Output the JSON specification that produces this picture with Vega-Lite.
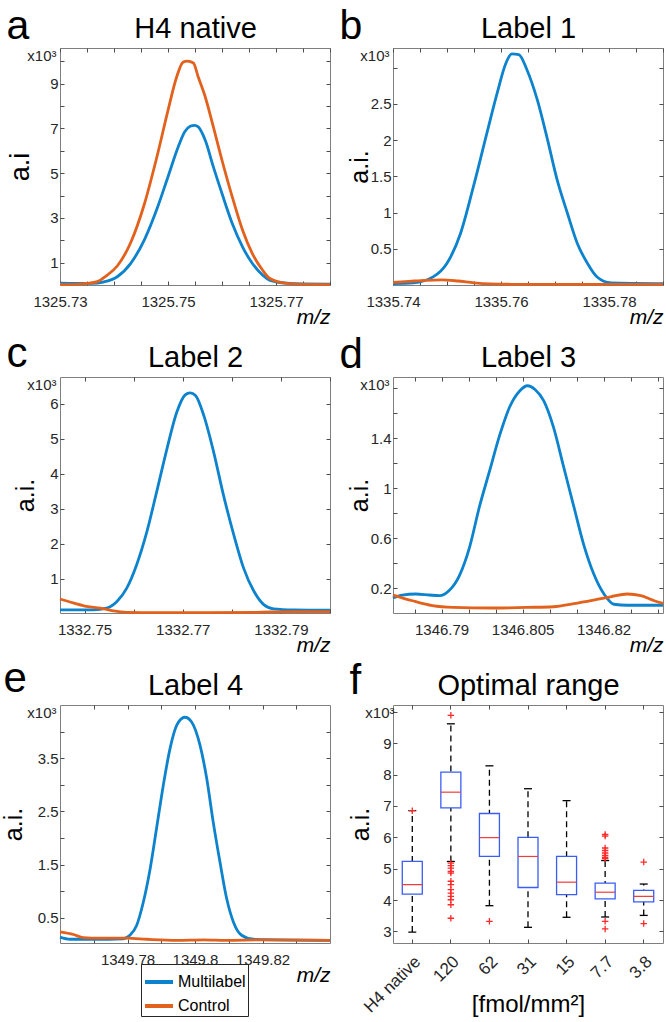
{
"$schema": "https://vega.github.io/schema/vega-lite/v6.json",
"padding": {"left": 0, "top": 5, "right": 0, "bottom": 0},
"config": {
  "font": "Liberation Sans",
  "view": {"stroke": "#7f7f7f", "strokeWidth": 1},
  "axis": {"domain": false, "grid": false, "tickColor": "#4d4d4d", "tickSize": -4, "tickWidth": 1, "labelFontSize": 15, "labelColor": "#262626", "labelFlush": false, "labelOverlap": false, "titleFontWeight": "normal", "titleColor": "#000000", "titleFontSize": 25},
  "axisBottom": {"labelPadding": 13},
  "axisLeft": {"labelPadding": 6},
  "title": {"fontWeight": "normal", "color": "#000000"}
},
"resolve": {"scale": {"color": "independent"}, "legend": {"color": "independent"}},
"datasets": {
  "box": [
    {"cat": "H4 native", "lo": 2.98, "q1": 4.19, "med": 4.49, "q3": 5.23, "hi": 6.85},
    {"cat": "120", "lo": 5.23, "q1": 6.94, "med": 7.44, "q3": 8.08, "hi": 9.62},
    {"cat": "62", "lo": 3.82, "q1": 5.39, "med": 5.99, "q3": 6.76, "hi": 8.28},
    {"cat": "31", "lo": 3.13, "q1": 4.40, "med": 5.39, "q3": 6.0, "hi": 7.55},
    {"cat": "15", "lo": 3.45, "q1": 4.17, "med": 4.57, "q3": 5.39, "hi": 7.17},
    {"cat": "7.7", "lo": 3.46, "q1": 4.04, "med": 4.25, "q3": 4.54, "hi": 5.26},
    {"cat": "3.8", "lo": 3.51, "q1": 3.94, "med": 4.12, "q3": 4.31, "hi": 4.51}
  ],
  "out": [
    {"cat": "H4 native", "v": 6.85},
    {"cat": "120", "v": 9.89}, {"cat": "120", "v": 5.18}, {"cat": "120", "v": 5.10}, {"cat": "120", "v": 5.02}, {"cat": "120", "v": 4.91}, {"cat": "120", "v": 4.86}, {"cat": "120", "v": 4.60}, {"cat": "120", "v": 4.49}, {"cat": "120", "v": 4.33}, {"cat": "120", "v": 4.22}, {"cat": "120", "v": 4.12}, {"cat": "120", "v": 4.01}, {"cat": "120", "v": 3.85}, {"cat": "120", "v": 3.42},
    {"cat": "62", "v": 3.32},
    {"cat": "7.7", "v": 6.09}, {"cat": "7.7", "v": 6.04}, {"cat": "7.7", "v": 5.66}, {"cat": "7.7", "v": 5.58}, {"cat": "7.7", "v": 5.50}, {"cat": "7.7", "v": 5.42}, {"cat": "7.7", "v": 5.36}, {"cat": "7.7", "v": 5.32}, {"cat": "7.7", "v": 3.32}, {"cat": "7.7", "v": 3.08},
    {"cat": "3.8", "v": 5.21}, {"cat": "3.8", "v": 3.25}
  ]
},
"bounds": "flush",
"align": "each",
"columns": 2,
"spacing": {"row": 92, "column": 63},
"concat": [
   {
    "width": 270, "height": 237,
    "data": {"values": [
      {"x":1325.730,"y":0.08,"s":"Multilabel"},{"x":1325.733,"y":0.07,"s":"Multilabel"},{"x":1325.736,"y":0.07,"s":"Multilabel"},{"x":1325.738,"y":0.13,"s":"Multilabel"},{"x":1325.7406,"y":0.37,"s":"Multilabel"},{"x":1325.7431,"y":0.97,"s":"Multilabel"},{"x":1325.7456,"y":2.01,"s":"Multilabel"},{"x":1325.7481,"y":3.50,"s":"Multilabel"},{"x":1325.7500,"y":4.84,"s":"Multilabel"},{"x":1325.7519,"y":6.18,"s":"Multilabel"},{"x":1325.7531,"y":6.85,"s":"Multilabel"},{"x":1325.7541,"y":7.10,"s":"Multilabel"},{"x":1325.7549,"y":7.14,"s":"Multilabel"},{"x":1325.7556,"y":7.07,"s":"Multilabel"},{"x":1325.7569,"y":6.47,"s":"Multilabel"},{"x":1325.7584,"y":5.28,"s":"Multilabel"},{"x":1325.7600,"y":4.09,"s":"Multilabel"},{"x":1325.7619,"y":2.75,"s":"Multilabel"},{"x":1325.7638,"y":1.71,"s":"Multilabel"},{"x":1325.7656,"y":0.97,"s":"Multilabel"},{"x":1325.7675,"y":0.45,"s":"Multilabel"},{"x":1325.7688,"y":0.22,"s":"Multilabel"},{"x":1325.772,"y":0.08,"s":"Multilabel"},{"x":1325.775,"y":0.05,"s":"Multilabel"},{"x":1325.78,"y":0.04,"s":"Multilabel"},
      {"x":1325.730,"y":0.02,"s":"Control"},{"x":1325.733,"y":0.03,"s":"Control"},{"x":1325.735,"y":0.07,"s":"Control"},{"x":1325.7369,"y":0.15,"s":"Control"},{"x":1325.7385,"y":0.40,"s":"Control"},{"x":1325.7406,"y":0.85,"s":"Control"},{"x":1325.7431,"y":1.90,"s":"Control"},{"x":1325.7456,"y":3.60,"s":"Control"},{"x":1325.7481,"y":5.88,"s":"Control"},{"x":1325.7500,"y":7.81,"s":"Control"},{"x":1325.7516,"y":9.30,"s":"Control"},{"x":1325.7528,"y":9.97,"s":"Control"},{"x":1325.7536,"y":10.01,"s":"Control"},{"x":1325.7547,"y":9.93,"s":"Control"},{"x":1325.7556,"y":9.30,"s":"Control"},{"x":1325.7569,"y":8.41,"s":"Control"},{"x":1325.7584,"y":7.07,"s":"Control"},{"x":1325.7600,"y":5.58,"s":"Control"},{"x":1325.7619,"y":3.94,"s":"Control"},{"x":1325.7638,"y":2.46,"s":"Control"},{"x":1325.7656,"y":1.41,"s":"Control"},{"x":1325.7675,"y":0.67,"s":"Control"},{"x":1325.7688,"y":0.30,"s":"Control"},{"x":1325.772,"y":0.07,"s":"Control"},{"x":1325.775,"y":0.03,"s":"Control"},{"x":1325.78,"y":0.02,"s":"Control"}
    ]},
    "resolve": {"axis": {"x": "independent", "y": "independent"}},
    "layer": [
     {"mark": {"type": "line", "strokeWidth": 2.8, "interpolate": "monotone"},
      "encoding": {
       "x": {"field": "x", "type": "quantitative", "scale": {"domain": [1325.73, 1325.78], "nice": false, "zero": false},
             "axis": {"values": [1325.73,1325.735,1325.74,1325.745,1325.75,1325.755,1325.76,1325.765,1325.77,1325.775,1325.78], "labelExpr": "(datum.value==1325.73||datum.value==1325.75||datum.value==1325.77)?format(datum.value,'.3~f'):''", "title": "m/z", "titleFontSize": 21, "titleFontStyle": "italic", "titleAnchor": "end", "titlePadding": -3}},
       "y": {"field": "y", "type": "quantitative", "scale": {"domain": [0, 10.6], "nice": false, "zero": false},
             "axis": {"values": [1,2,3,4,5,6,7,8,9,10], "format": "~g", "labelExpr": "datum.value%2==1?datum.label:''", "title": "a.i", "titleFontSize": 27, "titlePadding": 15}},
       "color": {"field": "s", "type": "nominal", "scale": {"domain": ["Multilabel", "Control"], "range": ["#0d83cd", "#e2611c"]}, "legend": null}
      }},
     {"mark": {"type": "line", "opacity": 0},
      "encoding": {
       "x": {"field": "x", "type": "quantitative", "scale": {"domain": [1325.73, 1325.78], "nice": false, "zero": false},
             "axis": {"orient": "top", "values": [1325.73,1325.735,1325.74,1325.745,1325.75,1325.755,1325.76,1325.765,1325.77,1325.775,1325.78], "labels": false, "title": "H4 native", "titleFontSize": 29, "titlePadding": 4}},
       "y": {"field": "y", "type": "quantitative", "scale": {"domain": [0, 10.6], "nice": false, "zero": false},
             "axis": {"orient": "right", "values": [1,2,3,4,5,6,7,8,9,10], "labels": false, "title": null}}
      }},
     {"mark": {"type": "line", "opacity": 0},
      "encoding": {
       "x": {"field": "x", "type": "quantitative", "scale": {"domain": [1325.73, 1325.78], "nice": false, "zero": false}, "axis": null},
       "y": {"field": "y", "type": "quantitative", "scale": {"domain": [0, 10.6], "nice": false, "zero": false},
             "axis": {"orient": "left", "ticks": false, "labels": false, "title": "x10³", "titleAngle": 0, "titleAnchor": "end", "titleAlign": "right", "titleBaseline": "top", "titleFontSize": 15, "titlePadding": 4, "titleColor": "#262626"}}
      }},
     {"mark": {"type": "line", "opacity": 0},
      "encoding": {
       "x": {"field": "x", "type": "quantitative", "scale": {"domain": [1325.73, 1325.78], "nice": false, "zero": false}, "axis": null},
       "y": {"field": "y", "type": "quantitative", "scale": {"domain": [0, 10.6], "nice": false, "zero": false},
             "axis": {"orient": "left", "ticks": false, "labels": false, "title": "a", "titleAngle": 0, "titleX": -54, "titleY": -9.5, "titleAlign": "left", "titleBaseline": "alphabetic", "titleFontSize": 41}}
      }}
    ]
   },
   {
    "width": 270, "height": 237,
    "data": {"values": [
      {"x":1335.740,"y":0.02,"s":"Multilabel"},{"x":1335.7438,"y":0.03,"s":"Multilabel"},{"x":1335.7475,"y":0.115,"s":"Multilabel"},{"x":1335.7500,"y":0.30,"s":"Multilabel"},{"x":1335.7525,"y":0.71,"s":"Multilabel"},{"x":1335.7549,"y":1.36,"s":"Multilabel"},{"x":1335.7574,"y":2.10,"s":"Multilabel"},{"x":1335.7593,"y":2.65,"s":"Multilabel"},{"x":1335.7608,"y":3.04,"s":"Multilabel"},{"x":1335.7620,"y":3.19,"s":"Multilabel"},{"x":1335.7633,"y":3.18,"s":"Multilabel"},{"x":1335.7648,"y":2.97,"s":"Multilabel"},{"x":1335.7667,"y":2.56,"s":"Multilabel"},{"x":1335.7686,"y":2.01,"s":"Multilabel"},{"x":1335.7704,"y":1.45,"s":"Multilabel"},{"x":1335.7723,"y":0.99,"s":"Multilabel"},{"x":1335.7741,"y":0.58,"s":"Multilabel"},{"x":1335.7760,"y":0.30,"s":"Multilabel"},{"x":1335.7778,"y":0.11,"s":"Multilabel"},{"x":1335.7803,"y":0.03,"s":"Multilabel"},{"x":1335.790,"y":0.02,"s":"Multilabel"},
      {"x":1335.740,"y":0.035,"s":"Control"},{"x":1335.743,"y":0.05,"s":"Control"},{"x":1335.746,"y":0.065,"s":"Control"},{"x":1335.749,"y":0.07,"s":"Control"},{"x":1335.752,"y":0.055,"s":"Control"},{"x":1335.755,"y":0.03,"s":"Control"},{"x":1335.758,"y":0.015,"s":"Control"},{"x":1335.762,"y":0.01,"s":"Control"},{"x":1335.770,"y":0.01,"s":"Control"},{"x":1335.780,"y":0.01,"s":"Control"},{"x":1335.790,"y":0.01,"s":"Control"}
    ]},
    "resolve": {"axis": {"x": "independent", "y": "independent"}},
    "layer": [
     {"mark": {"type": "line", "strokeWidth": 2.8, "interpolate": "monotone"},
      "encoding": {
       "x": {"field": "x", "type": "quantitative", "scale": {"domain": [1335.74, 1335.79], "nice": false, "zero": false},
             "axis": {"values": [1335.74,1335.745,1335.75,1335.755,1335.76,1335.765,1335.77,1335.775,1335.78,1335.785,1335.79], "labelExpr": "(datum.value==1335.74||datum.value==1335.76||datum.value==1335.78)?format(datum.value,'.3~f'):''", "title": "m/z", "titleFontSize": 21, "titleFontStyle": "italic", "titleAnchor": "end", "titlePadding": -3}},
       "y": {"field": "y", "type": "quantitative", "scale": {"domain": [0, 3.27], "nice": false, "zero": false},
             "axis": {"values": [0.5,1,1.5,2,2.5,3], "format": "~g", "labelExpr": "datum.value<=2.5?datum.label:''", "title": "a.i.", "titlePadding": -2}},
       "color": {"field": "s", "type": "nominal", "scale": {"domain": ["Multilabel", "Control"], "range": ["#0d83cd", "#e2611c"]}, "legend": null}
      }},
     {"mark": {"type": "line", "opacity": 0},
      "encoding": {
       "x": {"field": "x", "type": "quantitative", "scale": {"domain": [1335.74, 1335.79], "nice": false, "zero": false},
             "axis": {"orient": "top", "values": [1335.74,1335.745,1335.75,1335.755,1335.76,1335.765,1335.77,1335.775,1335.78,1335.785,1335.79], "labels": false, "title": "Label 1", "titleFontSize": 29, "titlePadding": 4}},
       "y": {"field": "y", "type": "quantitative", "scale": {"domain": [0, 3.27], "nice": false, "zero": false},
             "axis": {"orient": "right", "values": [0.5,1,1.5,2,2.5,3], "labels": false, "title": null}}
      }},
     {"mark": {"type": "line", "opacity": 0},
      "encoding": {
       "x": {"field": "x", "type": "quantitative", "scale": {"domain": [1335.74, 1335.79], "nice": false, "zero": false}, "axis": null},
       "y": {"field": "y", "type": "quantitative", "scale": {"domain": [0, 3.27], "nice": false, "zero": false},
             "axis": {"orient": "left", "ticks": false, "labels": false, "title": "x10³", "titleAngle": 0, "titleAnchor": "end", "titleAlign": "right", "titleBaseline": "top", "titleFontSize": 15, "titlePadding": 4, "titleColor": "#262626"}}
      }},
     {"mark": {"type": "line", "opacity": 0},
      "encoding": {
       "x": {"field": "x", "type": "quantitative", "scale": {"domain": [1335.74, 1335.79], "nice": false, "zero": false}, "axis": null},
       "y": {"field": "y", "type": "quantitative", "scale": {"domain": [0, 3.27], "nice": false, "zero": false},
             "axis": {"orient": "left", "ticks": false, "labels": false, "title": "b", "titleAngle": 0, "titleX": -54, "titleY": -9.5, "titleAlign": "left", "titleBaseline": "alphabetic", "titleFontSize": 41}}
      }}
    ]
   },
   {
    "width": 270, "height": 236,
    "data": {"values": [
      {"x":1332.745,"y":0.12,"s":"Multilabel"},{"x":1332.7518,"y":0.12,"s":"Multilabel"},{"x":1332.7545,"y":0.17,"s":"Multilabel"},{"x":1332.7566,"y":0.36,"s":"Multilabel"},{"x":1332.7586,"y":0.74,"s":"Multilabel"},{"x":1332.7606,"y":1.40,"s":"Multilabel"},{"x":1332.7627,"y":2.35,"s":"Multilabel"},{"x":1332.7647,"y":3.49,"s":"Multilabel"},{"x":1332.7668,"y":4.72,"s":"Multilabel"},{"x":1332.7688,"y":5.76,"s":"Multilabel"},{"x":1332.7705,"y":6.25,"s":"Multilabel"},{"x":1332.7715,"y":6.31,"s":"Multilabel"},{"x":1332.7726,"y":6.23,"s":"Multilabel"},{"x":1332.7743,"y":5.66,"s":"Multilabel"},{"x":1332.7763,"y":4.62,"s":"Multilabel"},{"x":1332.7783,"y":3.39,"s":"Multilabel"},{"x":1332.7804,"y":2.26,"s":"Multilabel"},{"x":1332.7824,"y":1.31,"s":"Multilabel"},{"x":1332.7845,"y":0.65,"s":"Multilabel"},{"x":1332.7865,"y":0.27,"s":"Multilabel"},{"x":1332.7885,"y":0.15,"s":"Multilabel"},{"x":1332.7926,"y":0.12,"s":"Multilabel"},{"x":1332.800,"y":0.11,"s":"Multilabel"},
      {"x":1332.745,"y":0.43,"s":"Control"},{"x":1332.7477,"y":0.32,"s":"Control"},{"x":1332.7504,"y":0.22,"s":"Control"},{"x":1332.7532,"y":0.17,"s":"Control"},{"x":1332.7559,"y":0.09,"s":"Control"},{"x":1332.7586,"y":0.05,"s":"Control"},{"x":1332.765,"y":0.04,"s":"Control"},{"x":1332.775,"y":0.04,"s":"Control"},{"x":1332.785,"y":0.05,"s":"Control"},{"x":1332.792,"y":0.07,"s":"Control"},{"x":1332.800,"y":0.07,"s":"Control"}
    ]},
    "resolve": {"axis": {"x": "independent", "y": "independent"}},
    "layer": [
     {"mark": {"type": "line", "strokeWidth": 2.8, "interpolate": "monotone"},
      "encoding": {
       "x": {"field": "x", "type": "quantitative", "scale": {"domain": [1332.745, 1332.8], "nice": false, "zero": false},
             "axis": {"values": [1332.75,1332.76,1332.77,1332.78,1332.79,1332.8], "labelExpr": "(datum.value==1332.75||datum.value==1332.77||datum.value==1332.79)?format(datum.value,'.3~f'):''", "title": "m/z", "titleFontSize": 21, "titleFontStyle": "italic", "titleAnchor": "end", "titlePadding": -3}},
       "y": {"field": "y", "type": "quantitative", "scale": {"domain": [0.03, 6.76], "nice": false, "zero": false},
             "axis": {"values": [1,2,3,4,5,6], "format": "~g", "title": "a.i.", "titlePadding": 11}},
       "color": {"field": "s", "type": "nominal", "scale": {"domain": ["Multilabel", "Control"], "range": ["#0d83cd", "#e2611c"]}, "legend": null}
      }},
     {"mark": {"type": "line", "opacity": 0},
      "encoding": {
       "x": {"field": "x", "type": "quantitative", "scale": {"domain": [1332.745, 1332.8], "nice": false, "zero": false},
             "axis": {"orient": "top", "values": [1332.75,1332.76,1332.77,1332.78,1332.79,1332.8], "labels": false, "title": "Label 2", "titleFontSize": 29, "titlePadding": 4}},
       "y": {"field": "y", "type": "quantitative", "scale": {"domain": [0.03, 6.76], "nice": false, "zero": false},
             "axis": {"orient": "right", "values": [1,2,3,4,5,6], "labels": false, "title": null}}
      }},
     {"mark": {"type": "line", "opacity": 0},
      "encoding": {
       "x": {"field": "x", "type": "quantitative", "scale": {"domain": [1332.745, 1332.8], "nice": false, "zero": false}, "axis": null},
       "y": {"field": "y", "type": "quantitative", "scale": {"domain": [0.03, 6.76], "nice": false, "zero": false},
             "axis": {"orient": "left", "ticks": false, "labels": false, "title": "x10³", "titleAngle": 0, "titleAnchor": "end", "titleAlign": "right", "titleBaseline": "top", "titleFontSize": 15, "titlePadding": 4, "titleColor": "#262626"}}
      }},
     {"mark": {"type": "line", "opacity": 0},
      "encoding": {
       "x": {"field": "x", "type": "quantitative", "scale": {"domain": [1332.745, 1332.8], "nice": false, "zero": false}, "axis": null},
       "y": {"field": "y", "type": "quantitative", "scale": {"domain": [0.03, 6.76], "nice": false, "zero": false},
             "axis": {"orient": "left", "ticks": false, "labels": false, "title": "c", "titleAngle": 0, "titleX": -54, "titleY": -11, "titleAlign": "left", "titleBaseline": "alphabetic", "titleFontSize": 42}}
      }}
    ]
   },
   {
    "width": 270, "height": 236,
    "data": {"values": [
      {"x":1346.781,"y":0.12,"s":"Multilabel"},{"x":1346.7827,"y":0.144,"s":"Multilabel"},{"x":1346.7852,"y":0.152,"s":"Multilabel"},{"x":1346.7877,"y":0.144,"s":"Multilabel"},{"x":1346.7896,"y":0.139,"s":"Multilabel"},{"x":1346.7914,"y":0.18,"s":"Multilabel"},{"x":1346.7933,"y":0.30,"s":"Multilabel"},{"x":1346.7952,"y":0.53,"s":"Multilabel"},{"x":1346.7970,"y":0.85,"s":"Multilabel"},{"x":1346.7989,"y":1.14,"s":"Multilabel"},{"x":1346.8008,"y":1.43,"s":"Multilabel"},{"x":1346.8026,"y":1.65,"s":"Multilabel"},{"x":1346.8045,"y":1.78,"s":"Multilabel"},{"x":1346.8059,"y":1.82,"s":"Multilabel"},{"x":1346.8073,"y":1.79,"s":"Multilabel"},{"x":1346.8089,"y":1.70,"s":"Multilabel"},{"x":1346.8107,"y":1.49,"s":"Multilabel"},{"x":1346.8126,"y":1.17,"s":"Multilabel"},{"x":1346.8145,"y":0.85,"s":"Multilabel"},{"x":1346.8163,"y":0.55,"s":"Multilabel"},{"x":1346.8182,"y":0.31,"s":"Multilabel"},{"x":1346.8201,"y":0.15,"s":"Multilabel"},{"x":1346.8219,"y":0.07,"s":"Multilabel"},{"x":1346.8244,"y":0.062,"s":"Multilabel"},{"x":1346.831,"y":0.062,"s":"Multilabel"},
      {"x":1346.781,"y":0.144,"s":"Control"},{"x":1346.7846,"y":0.098,"s":"Control"},{"x":1346.7883,"y":0.059,"s":"Control"},{"x":1346.7921,"y":0.045,"s":"Control"},{"x":1346.7996,"y":0.04,"s":"Control"},{"x":1346.8058,"y":0.045,"s":"Control"},{"x":1346.8107,"y":0.05,"s":"Control"},{"x":1346.8145,"y":0.075,"s":"Control"},{"x":1346.8182,"y":0.104,"s":"Control"},{"x":1346.8213,"y":0.13,"s":"Control"},{"x":1346.8244,"y":0.152,"s":"Control"},{"x":1346.8269,"y":0.139,"s":"Control"},{"x":1346.8294,"y":0.098,"s":"Control"},{"x":1346.831,"y":0.077,"s":"Control"}
    ]},
    "resolve": {"axis": {"x": "independent", "y": "independent"}},
    "layer": [
     {"mark": {"type": "line", "strokeWidth": 2.8, "interpolate": "monotone"},
      "encoding": {
       "x": {"field": "x", "type": "quantitative", "scale": {"domain": [1346.781, 1346.831], "nice": false, "zero": false},
             "axis": {"values": [1346.785,1346.79,1346.795,1346.8,1346.805,1346.81,1346.815,1346.82,1346.825,1346.83], "labelExpr": "(datum.value==1346.79||datum.value==1346.805||datum.value==1346.82)?format(datum.value,'.3~f'):''", "title": "m/z", "titleFontSize": 21, "titleFontStyle": "italic", "titleAnchor": "end", "titlePadding": -3}},
       "y": {"field": "y", "type": "quantitative", "scale": {"domain": [0, 1.89], "nice": false, "zero": false},
             "axis": {"values": [0.2,0.4,0.6,0.8,1,1.2,1.4,1.6,1.8], "format": "~g", "labelExpr": "(datum.value==0.2||datum.value==0.6||datum.value==1||datum.value==1.4)?datum.label:''", "title": "a.i.", "titlePadding": -2}},
       "color": {"field": "s", "type": "nominal", "scale": {"domain": ["Multilabel", "Control"], "range": ["#0d83cd", "#e2611c"]}, "legend": null}
      }},
     {"mark": {"type": "line", "opacity": 0},
      "encoding": {
       "x": {"field": "x", "type": "quantitative", "scale": {"domain": [1346.781, 1346.831], "nice": false, "zero": false},
             "axis": {"orient": "top", "values": [1346.785,1346.79,1346.795,1346.8,1346.805,1346.81,1346.815,1346.82,1346.825,1346.83], "labels": false, "title": "Label 3", "titleFontSize": 29, "titlePadding": 4}},
       "y": {"field": "y", "type": "quantitative", "scale": {"domain": [0, 1.89], "nice": false, "zero": false},
             "axis": {"orient": "right", "values": [0.2,0.4,0.6,0.8,1,1.2,1.4,1.6,1.8], "labels": false, "title": null}}
      }},
     {"mark": {"type": "line", "opacity": 0},
      "encoding": {
       "x": {"field": "x", "type": "quantitative", "scale": {"domain": [1346.781, 1346.831], "nice": false, "zero": false}, "axis": null},
       "y": {"field": "y", "type": "quantitative", "scale": {"domain": [0, 1.89], "nice": false, "zero": false},
             "axis": {"orient": "left", "ticks": false, "labels": false, "title": "x10³", "titleAngle": 0, "titleAnchor": "end", "titleAlign": "right", "titleBaseline": "top", "titleFontSize": 15, "titlePadding": 4, "titleColor": "#262626"}}
      }},
     {"mark": {"type": "line", "opacity": 0},
      "encoding": {
       "x": {"field": "x", "type": "quantitative", "scale": {"domain": [1346.781, 1346.831], "nice": false, "zero": false}, "axis": null},
       "y": {"field": "y", "type": "quantitative", "scale": {"domain": [0, 1.89], "nice": false, "zero": false},
             "axis": {"orient": "left", "ticks": false, "labels": false, "title": "d", "titleAngle": 0, "titleX": -54, "titleY": -10, "titleAlign": "left", "titleBaseline": "alphabetic", "titleFontSize": 42}}
      }}
    ]
   },
   {
    "width": 270, "height": 238,
    "data": {"values": [
      {"x":1349.760,"y":0.14,"s":"Multilabel"},{"x":1349.763,"y":0.10,"s":"Multilabel"},{"x":1349.770,"y":0.10,"s":"Multilabel"},{"x":1349.7788,"y":0.11,"s":"Multilabel"},{"x":1349.7807,"y":0.175,"s":"Multilabel"},{"x":1349.7827,"y":0.36,"s":"Multilabel"},{"x":1349.7847,"y":0.80,"s":"Multilabel"},{"x":1349.7867,"y":1.42,"s":"Multilabel"},{"x":1349.7886,"y":2.18,"s":"Multilabel"},{"x":1349.7906,"y":2.99,"s":"Multilabel"},{"x":1349.7926,"y":3.68,"s":"Multilabel"},{"x":1349.7946,"y":4.12,"s":"Multilabel"},{"x":1349.797,"y":4.27,"s":"Multilabel"},{"x":1349.799,"y":4.18,"s":"Multilabel"},{"x":1349.8015,"y":3.74,"s":"Multilabel"},{"x":1349.8035,"y":3.11,"s":"Multilabel"},{"x":1349.8054,"y":2.30,"s":"Multilabel"},{"x":1349.8074,"y":1.55,"s":"Multilabel"},{"x":1349.8094,"y":0.86,"s":"Multilabel"},{"x":1349.8114,"y":0.42,"s":"Multilabel"},{"x":1349.8138,"y":0.175,"s":"Multilabel"},{"x":1349.8173,"y":0.10,"s":"Multilabel"},{"x":1349.840,"y":0.08,"s":"Multilabel"},
      {"x":1349.760,"y":0.24,"s":"Control"},{"x":1349.764,"y":0.19,"s":"Control"},{"x":1349.7669,"y":0.13,"s":"Control"},{"x":1349.7719,"y":0.12,"s":"Control"},{"x":1349.7798,"y":0.12,"s":"Control"},{"x":1349.7857,"y":0.10,"s":"Control"},{"x":1349.7946,"y":0.08,"s":"Control"},{"x":1349.8025,"y":0.09,"s":"Control"},{"x":1349.8094,"y":0.08,"s":"Control"},{"x":1349.8193,"y":0.09,"s":"Control"},{"x":1349.840,"y":0.08,"s":"Control"}
    ]},
    "resolve": {"axis": {"x": "independent", "y": "independent"}},
    "layer": [
     {"mark": {"type": "line", "strokeWidth": 2.8, "interpolate": "monotone"},
      "encoding": {
       "x": {"field": "x", "type": "quantitative", "scale": {"domain": [1349.76, 1349.84], "nice": false, "zero": false},
             "axis": {"values": [1349.77,1349.78,1349.79,1349.8,1349.81,1349.82,1349.83], "labelExpr": "(datum.value==1349.78||datum.value==1349.8||datum.value==1349.82)?format(datum.value,'.3~f'):''", "title": "m/z", "titleFontSize": 21, "titleFontStyle": "italic", "titleAnchor": "end", "titlePadding": -3}},
       "y": {"field": "y", "type": "quantitative", "scale": {"domain": [0.03, 4.5], "nice": false, "zero": false},
             "axis": {"values": [0.5,1,1.5,2,2.5,3,3.5,4], "format": "~g", "labelExpr": "(datum.value==0.5||datum.value==1.5||datum.value==2.5||datum.value==3.5)?datum.label:''", "title": "a.i.", "titlePadding": 11}},
       "color": {"field": "s", "type": "nominal", "scale": {"domain": ["Multilabel", "Control"], "range": ["#0d83cd", "#e2611c"]},
                 "legend": {"orient": "none", "legendX": 81, "legendY": 259, "title": null, "direction": "vertical", "strokeColor": "#262626", "fillColor": "#ffffff", "padding": 2, "labelFontSize": 16, "labelColor": "#000000", "symbolType": "stroke", "symbolStrokeWidth": 4, "symbolSize": 784, "labelOffset": 3, "rowPadding": -5}}
      }},
     {"mark": {"type": "line", "opacity": 0},
      "encoding": {
       "x": {"field": "x", "type": "quantitative", "scale": {"domain": [1349.76, 1349.84], "nice": false, "zero": false},
             "axis": {"orient": "top", "values": [1349.77,1349.78,1349.79,1349.8,1349.81,1349.82,1349.83], "labels": false, "title": "Label 4", "titleFontSize": 29, "titlePadding": 4}},
       "y": {"field": "y", "type": "quantitative", "scale": {"domain": [0.03, 4.5], "nice": false, "zero": false},
             "axis": {"orient": "right", "values": [0.5,1,1.5,2,2.5,3,3.5,4], "labels": false, "title": null}}
      }},
     {"mark": {"type": "line", "opacity": 0},
      "encoding": {
       "x": {"field": "x", "type": "quantitative", "scale": {"domain": [1349.76, 1349.84], "nice": false, "zero": false}, "axis": null},
       "y": {"field": "y", "type": "quantitative", "scale": {"domain": [0.03, 4.5], "nice": false, "zero": false},
             "axis": {"orient": "left", "ticks": false, "labels": false, "title": "x10³", "titleAngle": 0, "titleAnchor": "end", "titleAlign": "right", "titleBaseline": "top", "titleFontSize": 15, "titlePadding": 4, "titleColor": "#262626"}}
      }},
     {"mark": {"type": "line", "opacity": 0},
      "encoding": {
       "x": {"field": "x", "type": "quantitative", "scale": {"domain": [1349.76, 1349.84], "nice": false, "zero": false}, "axis": null},
       "y": {"field": "y", "type": "quantitative", "scale": {"domain": [0.03, 4.5], "nice": false, "zero": false},
             "axis": {"orient": "left", "ticks": false, "labels": false, "title": "e", "titleAngle": 0, "titleX": -57, "titleY": -14, "titleAlign": "left", "titleBaseline": "alphabetic", "titleFontSize": 42}}
      }}
    ]
   },
   {
    "width": 270, "height": 238,
    "resolve": {"axis": {"x": "independent", "y": "independent"}},
    "layer": [
     {"data": {"name": "box"},
      "mark": {"type": "rule", "color": "#000000", "strokeWidth": 1.3, "strokeDash": [6, 4]},
      "encoding": {
       "x": {"field": "cat", "type": "nominal", "scale": {"domain": ["H4 native","120","62","31","15","7.7","3.8"], "paddingInner": 0, "paddingOuter": 0},
             "axis": {"labelAngle": -45, "labelPadding": 14, "labelFontSize": 17, "title": "[fmol/mm²]", "titleFontSize": 24, "titlePadding": -23}},
       "y": {"field": "lo", "type": "quantitative", "scale": {"domain": [2.63, 10.22], "nice": false, "zero": false},
             "axis": {"values": [3,4,5,6,7,8,9,10], "format": "~g", "labelExpr": "datum.value<10?datum.label:''", "title": "a.i.", "titlePadding": 9}},
       "y2": {"field": "hi"}
      }},
     {"data": {"name": "box"},
      "mark": {"type": "bar", "width": 20, "fill": "#ffffff", "stroke": "#3a5df5", "strokeWidth": 1.3},
      "encoding": {
       "x": {"field": "cat", "type": "nominal", "scale": {"domain": ["H4 native","120","62","31","15","7.7","3.8"], "paddingInner": 0, "paddingOuter": 0}, "axis": null},
       "y": {"field": "q1", "type": "quantitative", "scale": {"domain": [2.63, 10.22], "nice": false, "zero": false}, "axis": null},
       "y2": {"field": "q3"}
      }},
     {"data": {"name": "box"},
      "mark": {"type": "tick", "color": "#f03c3c", "size": 20, "thickness": 1.2, "opacity": 1},
      "encoding": {
       "x": {"field": "cat", "type": "nominal", "scale": {"domain": ["H4 native","120","62","31","15","7.7","3.8"], "paddingInner": 0, "paddingOuter": 0}, "axis": null},
       "y": {"field": "med", "type": "quantitative", "scale": {"domain": [2.63, 10.22], "nice": false, "zero": false}, "axis": null}
      }},
     {"data": {"name": "box"},
      "mark": {"type": "tick", "color": "#000000", "size": 8, "thickness": 1.3, "opacity": 1},
      "encoding": {
       "x": {"field": "cat", "type": "nominal", "scale": {"domain": ["H4 native","120","62","31","15","7.7","3.8"], "paddingInner": 0, "paddingOuter": 0}, "axis": null},
       "y": {"field": "hi", "type": "quantitative", "scale": {"domain": [2.63, 10.22], "nice": false, "zero": false}, "axis": null}
      }},
     {"data": {"name": "box"},
      "mark": {"type": "tick", "color": "#000000", "size": 8, "thickness": 1.3, "opacity": 1},
      "encoding": {
       "x": {"field": "cat", "type": "nominal", "scale": {"domain": ["H4 native","120","62","31","15","7.7","3.8"], "paddingInner": 0, "paddingOuter": 0}, "axis": null},
       "y": {"field": "lo", "type": "quantitative", "scale": {"domain": [2.63, 10.22], "nice": false, "zero": false}, "axis": null}
      }},
     {"data": {"name": "out"},
      "mark": {"type": "point", "shape": "M-1,0L1,0M0,-1L0,1", "size": 42, "filled": false, "stroke": "#ff2a2a", "strokeWidth": 1.3, "opacity": 1},
      "encoding": {
       "x": {"field": "cat", "type": "nominal", "scale": {"domain": ["H4 native","120","62","31","15","7.7","3.8"], "paddingInner": 0, "paddingOuter": 0}, "axis": null},
       "y": {"field": "v", "type": "quantitative", "scale": {"domain": [2.63, 10.22], "nice": false, "zero": false}, "axis": null}
      }},
     {"data": {"name": "box"},
      "mark": {"type": "tick", "opacity": 0},
      "encoding": {
       "x": {"field": "cat", "type": "nominal", "scale": {"domain": ["H4 native","120","62","31","15","7.7","3.8"], "paddingInner": 0, "paddingOuter": 0},
             "axis": {"orient": "top", "labels": false, "title": "Optimal range", "titleFontSize": 29, "titlePadding": 4}},
       "y": {"field": "hi", "type": "quantitative", "scale": {"domain": [2.63, 10.22], "nice": false, "zero": false},
             "axis": {"orient": "right", "values": [3,4,5,6,7,8,9,10], "labels": false, "title": null}}
      }},
     {"data": {"name": "box"},
      "mark": {"type": "tick", "opacity": 0},
      "encoding": {
       "x": {"field": "cat", "type": "nominal", "scale": {"domain": ["H4 native","120","62","31","15","7.7","3.8"], "paddingInner": 0, "paddingOuter": 0}, "axis": null},
       "y": {"field": "hi", "type": "quantitative", "scale": {"domain": [2.63, 10.22], "nice": false, "zero": false},
             "axis": {"orient": "left", "ticks": false, "labels": false, "title": "x10³", "titleAngle": 0, "titleAnchor": "end", "titleAlign": "right", "titleBaseline": "top", "titleFontSize": 15, "titlePadding": -1, "titleColor": "#262626"}}
      }},
     {"data": {"name": "box"},
      "mark": {"type": "tick", "opacity": 0},
      "encoding": {
       "x": {"field": "cat", "type": "nominal", "scale": {"domain": ["H4 native","120","62","31","15","7.7","3.8"], "paddingInner": 0, "paddingOuter": 0}, "axis": null},
       "y": {"field": "hi", "type": "quantitative", "scale": {"domain": [2.63, 10.22], "nice": false, "zero": false},
             "axis": {"orient": "left", "ticks": false, "labels": false, "title": "f", "titleAngle": 0, "titleX": -44, "titleY": -12, "titleAlign": "left", "titleBaseline": "alphabetic", "titleFontSize": 42}}
      }}
    ]
   }
]
}
